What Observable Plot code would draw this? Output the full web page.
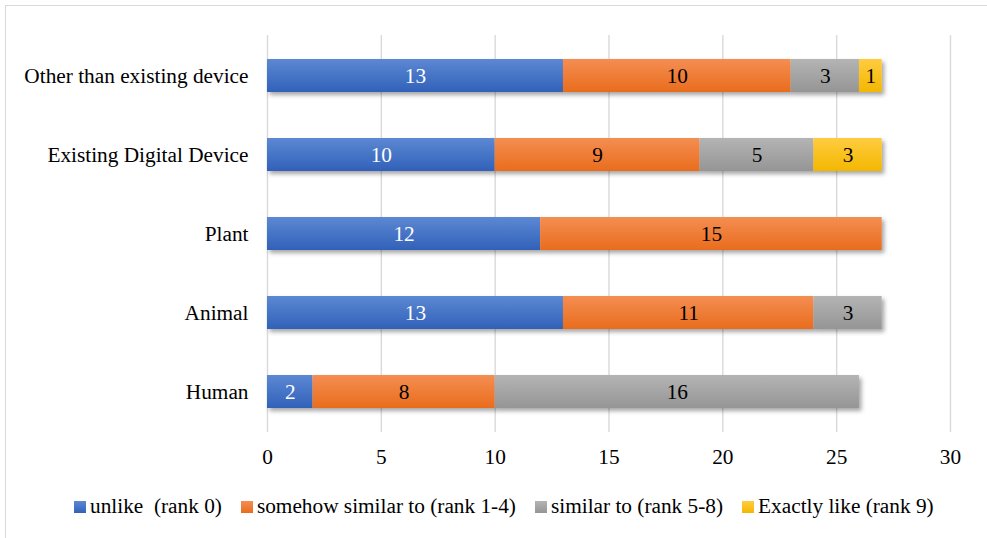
<!DOCTYPE html>
<html>
<head>
<meta charset="utf-8">
<script src="https://cdn.jsdelivr.net/npm/d3@7"></script>
<script src="https://cdn.jsdelivr.net/npm/@observablehq/plot@0.6"></script>
<style>
  html, body { margin: 0; padding: 0; background: #fff; }
  body { width: 987px; height: 538px; overflow: hidden; position: relative;
         font-family: "Liberation Serif", "Times New Roman", serif; }
  #frame { position: absolute; left: 5px; top: 5px; width: 1100px; height: 700px;
           border-left: 1.5px solid #d9d9d9; border-top: 1.5px solid #d9d9d9; }
  #chart { position: absolute; left: 0; top: 0; }
  #legend { position: absolute; left: 74px; top: 494px; display: flex;
            font-size: 21.3px; color: #000; white-space: pre; }
  .item { display: flex; align-items: center; margin-right: 19px; }
  .sw { width: 12px; height: 12px; margin-right: 4px; }
</style>
</head>
<body>
<div id="frame"></div>
<div id="chart"></div>
<div id="legend"></div>
<script>
// Categories, top to bottom
const categories = ["Other than existing device", "Existing Digital Device", "Plant", "Animal", "Human"];
// Response series (stack order)
const series = ["unlike  (rank 0)", "somehow similar to (rank 1-4)", "similar to (rank 5-8)", "Exactly like (rank 9)"];
// Counts per category for each series
const unlike         = [13, 10, 12, 13, 2];
const somehowSimilar = [10,  9, 15, 11, 8];
const similar        = [ 3,  5,  0,  3, 16];
const exactly        = [ 1,  3,  0,  0, 0];
const xTicks = [0, 5, 10, 15, 20, 25, 30];

const gradientStops = [["#5c88d3", "#3161b9"], ["#f48e52", "#e96c1d"], ["#b4b4b4", "#959595"], ["#ffcc40", "#f3b700"]];
const labelColors = ["white", "black", "black", "black"];
const serifStack = '"Liberation Serif", "Times New Roman", serif';

const columns = [unlike, somehowSimilar, similar, exactly];
const rows = [];
categories.forEach((c, i) => {
  series.forEach((s, j) => {
    const v = columns[j][i];
    if (v > 0) rows.push({category: c, series: s, value: v});
  });
});

const stackOpts = {x: "value", y: "category", z: "series", order: null};
const si = d => series.indexOf(d.series);

const chart = Plot.plot({
  width: 987,
  height: 480,
  marginTop: 35,
  marginBottom: 48,
  marginLeft: 267,
  marginRight: 37,
  style: {fontFamily: serifStack, fontSize: "21.3px", color: "#000", background: "transparent"},
  x: {domain: [0, 30], ticks: xTicks, tickSize: 0, tickPadding: 16, label: null},
  y: {domain: categories, paddingInner: 0.58, paddingOuter: 0.29, tickSize: 0, tickPadding: 19, label: null},
  color: {type: "identity"},
  marks: [
    Plot.ruleX(xTicks, {stroke: "#d9d9d9", strokeWidth: 1.4}),
    Plot.barX(rows, Plot.stackX({...stackOpts, fill: d => `url(#seg-grad-${si(d)})`})),
    Plot.text(rows, Plot.stackX({...stackOpts, text: "value", fill: d => labelColors[si(d)], fontSize: 21.3}))
  ]
});

// Gradient fills and drop shadow for the bars
const ns = "http://www.w3.org/2000/svg";
const defs = document.createElementNS(ns, "defs");
gradientStops.forEach(([top, bottom], i) => {
  const g = document.createElementNS(ns, "linearGradient");
  g.setAttribute("id", `seg-grad-${i}`);
  g.setAttribute("x1", "0"); g.setAttribute("y1", "0");
  g.setAttribute("x2", "0"); g.setAttribute("y2", "1");
  [[0, top], [1, bottom]].forEach(([o, c]) => {
    const st = document.createElementNS(ns, "stop");
    st.setAttribute("offset", o);
    st.setAttribute("stop-color", c);
    g.appendChild(st);
  });
  defs.appendChild(g);
});
const filter = document.createElementNS(ns, "filter");
filter.setAttribute("id", "bar-shadow");
filter.setAttribute("x", "-5%"); filter.setAttribute("y", "-10%");
filter.setAttribute("width", "110%"); filter.setAttribute("height", "125%");
const shadow = document.createElementNS(ns, "feDropShadow");
shadow.setAttribute("dx", "2.5"); shadow.setAttribute("dy", "3");
shadow.setAttribute("stdDeviation", "2");
shadow.setAttribute("flood-color", "#000"); shadow.setAttribute("flood-opacity", "0.35");
filter.appendChild(shadow);
defs.appendChild(filter);
chart.insertBefore(defs, chart.firstChild);
const barGroup = chart.querySelector('g[aria-label="bar"]');
if (barGroup) barGroup.setAttribute("filter", "url(#bar-shadow)");

document.getElementById("chart").appendChild(chart);

// Legend
const legend = document.getElementById("legend");
series.forEach((s, i) => {
  const item = document.createElement("div");
  item.className = "item";
  const sw = document.createElement("div");
  sw.className = "sw";
  sw.style.background = `linear-gradient(${gradientStops[i][0]}, ${gradientStops[i][1]})`;
  const label = document.createElement("span");
  label.textContent = s;
  item.appendChild(sw);
  item.appendChild(label);
  legend.appendChild(item);
});
</script>
</body>
</html>
